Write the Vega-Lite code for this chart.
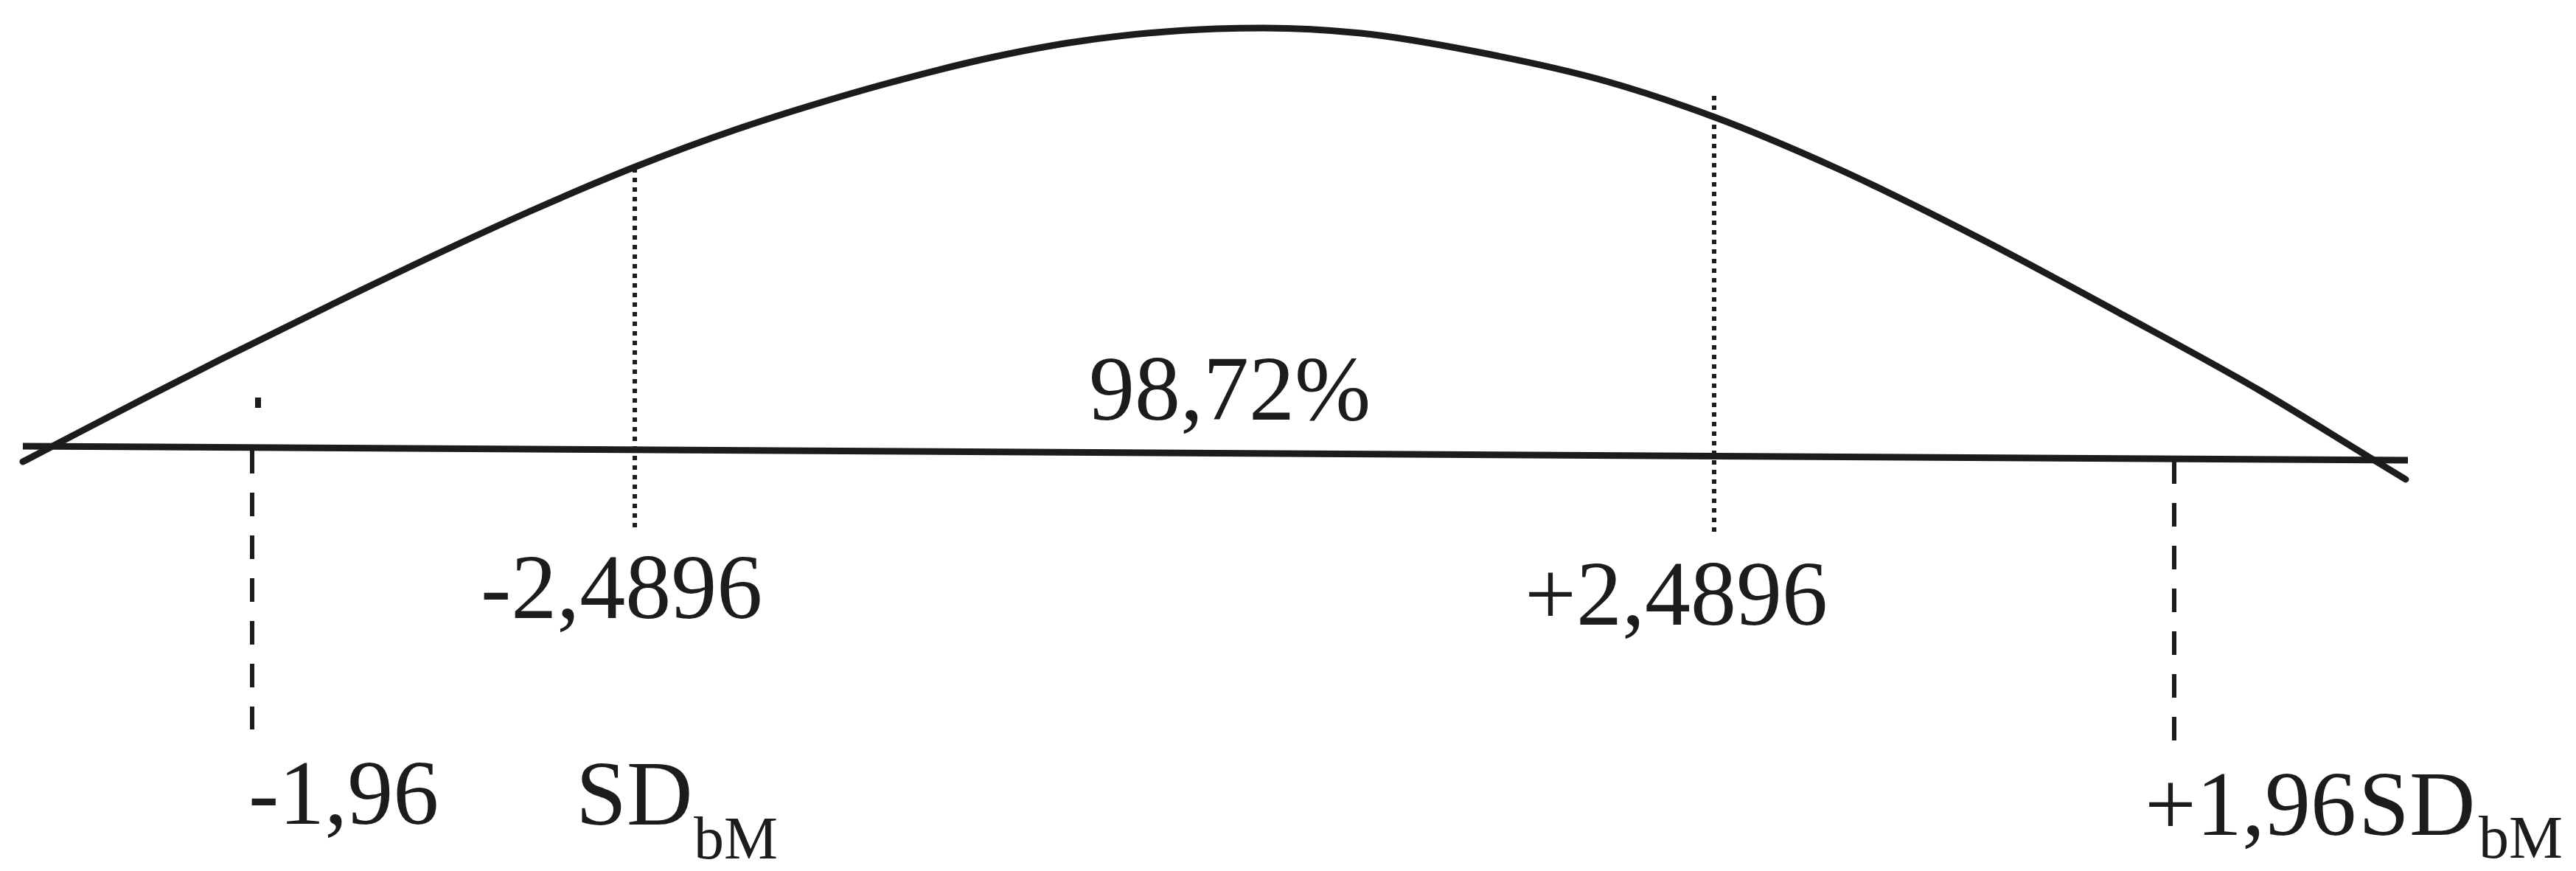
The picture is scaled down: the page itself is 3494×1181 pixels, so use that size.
{
  "$schema": "https://vega.github.io/schema/vega-lite/v6.json",
  "width": 3494,
  "height": 1181,
  "padding": 0,
  "autosize": {"type": "none"},
  "background": "#ffffff",
  "config": {"view": {"stroke": null}},
  "datasets": {
    "curve": [
      {"x": 31, "y": 626}, {"x": 77, "y": 602}, {"x": 200, "y": 538}, {"x": 300, "y": 487},
      {"x": 450, "y": 413}, {"x": 587, "y": 347}, {"x": 720, "y": 286}, {"x": 862, "y": 226},
      {"x": 1000, "y": 175}, {"x": 1100, "y": 143}, {"x": 1200, "y": 114}, {"x": 1349, "y": 77},
      {"x": 1450, "y": 58}, {"x": 1556, "y": 45}, {"x": 1650, "y": 39}, {"x": 1713, "y": 38},
      {"x": 1846, "y": 45}, {"x": 2012, "y": 72}, {"x": 2178, "y": 110}, {"x": 2326, "y": 159},
      {"x": 2491, "y": 228}, {"x": 2683, "y": 322}, {"x": 2874, "y": 424}, {"x": 3066, "y": 530},
      {"x": 3212, "y": 619}, {"x": 3263, "y": 650}
    ],
    "baseline": [{"x": 31, "y": 605}, {"x": 3266, "y": 624}],
    "segments": [
      {"kind": "dotted", "x": 861, "y": 228, "y2": 715},
      {"kind": "dotted", "x": 2325, "y": 130, "y2": 723},
      {"kind": "dashed", "x": 342, "y": 610, "y2": 989},
      {"kind": "dashed", "x": 2949, "y": 624, "y2": 1005},
      {"kind": "speck", "x": 350, "y": 539, "y2": 553}
    ],
    "labels": [
      {"kind": "main", "text": "98,72%", "x": 1477, "y": 569},
      {"kind": "main", "text": "-2,4896", "x": 652, "y": 838},
      {"kind": "main", "text": "+2,4896", "x": 2068, "y": 847},
      {"kind": "main", "text": "-1,96", "x": 337, "y": 1117},
      {"kind": "main", "text": "SD", "x": 781, "y": 1118},
      {"kind": "main", "text": "+1,96", "x": 2909, "y": 1132},
      {"kind": "main", "text": "SD", "x": 3199, "y": 1132},
      {"kind": "sub", "text": "bM", "x": 941, "y": 1164},
      {"kind": "sub", "text": "bM", "x": 3362, "y": 1163}
    ]
  },
  "encoding": {
    "x": {"field": "x", "type": "quantitative", "axis": null, "scale": {"domain": [0, 3494], "nice": false, "zero": false}},
    "y": {"field": "y", "type": "quantitative", "axis": null, "scale": {"domain": [0, 1181], "nice": false, "zero": false, "reverse": true}}
  },
  "layer": [
    {
      "data": {"name": "curve"},
      "mark": {"type": "line", "interpolate": "monotone", "color": "#1c1c1c", "strokeWidth": 9, "strokeCap": "round"}
    },
    {
      "data": {"name": "baseline"},
      "mark": {"type": "line", "color": "#1c1c1c", "strokeWidth": 9}
    },
    {
      "data": {"name": "segments"},
      "transform": [{"filter": "datum.kind == 'dotted'"}],
      "mark": {"type": "rule", "color": "#1c1c1c", "strokeWidth": 6, "strokeDash": [6, 7]},
      "encoding": {"y2": {"field": "y2"}}
    },
    {
      "data": {"name": "segments"},
      "transform": [{"filter": "datum.kind == 'dashed'"}],
      "mark": {"type": "rule", "color": "#1c1c1c", "strokeWidth": 6, "strokeDash": [32, 26]},
      "encoding": {"y2": {"field": "y2"}}
    },
    {
      "data": {"name": "segments"},
      "transform": [{"filter": "datum.kind == 'speck'"}],
      "mark": {"type": "rule", "color": "#1c1c1c", "strokeWidth": 8},
      "encoding": {"y2": {"field": "y2"}}
    },
    {
      "data": {"name": "labels"},
      "transform": [{"filter": "datum.kind == 'main'"}],
      "mark": {"type": "text", "align": "left", "baseline": "alphabetic", "font": "Liberation Serif", "fontSize": 124, "color": "#1c1c1c"},
      "encoding": {"text": {"field": "text"}}
    },
    {
      "data": {"name": "labels"},
      "transform": [{"filter": "datum.kind == 'sub'"}],
      "mark": {"type": "text", "align": "left", "baseline": "alphabetic", "font": "Liberation Serif", "fontSize": 82, "color": "#1c1c1c"},
      "encoding": {"text": {"field": "text"}}
    }
  ]
}
